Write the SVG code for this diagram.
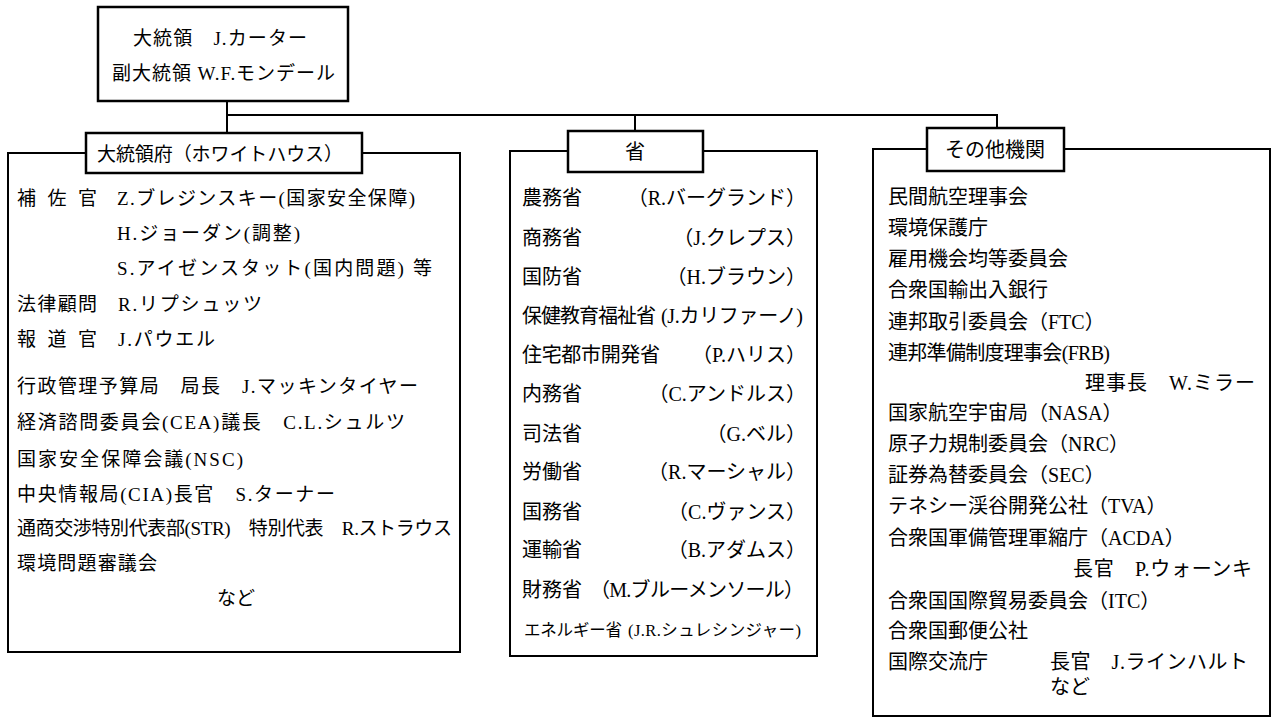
<svg xmlns="http://www.w3.org/2000/svg" width="1280" height="724" viewBox="0 0 1280 724">
<style>
text{font-family:"Liberation Serif","Noto Sans CJK JP",serif;fill:#000;font-size:19px}
.box{fill:#fff;stroke:#000;stroke-width:2}
.ttl{fill:#fff;stroke:#000;stroke-width:2.5}
.ln{stroke:#000;stroke-width:2;fill:none}
.sm{font-size:16.5px}
.r{font-size:20px}
.end{text-anchor:end}
.mid{text-anchor:middle}
</style>
<rect width="1280" height="724" fill="#fff"/>
<g id="connectors">
<path class="ln" d="M227,101 V133 M227,115 H998 M635,115 V131 M997,115 V128"/>
</g>
<g id="president">
<rect class="ttl" x="98" y="7" width="250" height="94"/>
<text x="133" y="45" font-size="20" textLength="174">大統領　J.カーター</text>
<text x="112" y="80" font-size="18" textLength="223">副大統領  W.F.モンデール</text>
</g>
<g id="whitehouse">
<rect class="box" x="8" y="153" width="452" height="499"/>
<rect class="ttl" x="86" y="133" width="276" height="40"/>
<text x="97" y="161" textLength="246">大統領府（ホワイトハウス）</text>
<text x="17" y="205" textLength="80">補 佐 官</text>
<text x="117" y="205" textLength="298">Z.ブレジンスキー(国家安全保障)</text>
<text x="117" y="240" textLength="183">H.ジョーダン(調整)</text>
<text x="117" y="275" textLength="315">S.アイゼンスタット(国内問題) 等</text>
<text x="17" y="311" textLength="80">法律顧問</text>
<text x="118" y="311" textLength="144">R.リプシュッツ</text>
<text x="17" y="346" textLength="80">報 道 官</text>
<text x="118" y="346" textLength="97">J.パウエル</text>
<text x="17" y="393" textLength="401">行政管理予算局　局長　J.マッキンタイヤー</text>
<text x="17" y="429" textLength="388">経済諮問委員会(CEA)議長　C.L.シュルツ</text>
<text x="17" y="466" textLength="226">国家安全保障会議(NSC)</text>
<text x="17" y="501" textLength="318">中央情報局(CIA)長官　S.ターナー</text>
<text x="17" y="535" textLength="435">通商交渉特別代表部(STR)　特別代表　R.ストラウス</text>
<text x="17" y="570" textLength="140">環境問題審議会</text>
<text x="236" y="605" class="mid">など</text>
</g>
<g id="ministries">
<rect class="box" x="510" y="151" width="307" height="505"/>
<rect class="ttl" x="568" y="131" width="135" height="41"/>
<text x="635" y="159" class="mid r">省</text>
<text x="522" y="205" class="r">農務省</text><text x="806" y="205" class="end r">（R.バーグランド）</text>
<text x="522" y="245" class="r">商務省</text><text x="806" y="245" class="end r">（J.クレプス）</text>
<text x="522" y="284" class="r">国防省</text><text x="806" y="284" class="end r">（H.ブラウン）</text>
<text x="522" y="323" class="r" textLength="134">保健教育福祉省</text><text x="661" y="323" class="r" textLength="142">(J.カリファーノ)</text>
<text x="522" y="362" class="r" textLength="138">住宅都市開発省</text><text x="806" y="362" class="end r">（P.ハリス）</text>
<text x="522" y="401" class="r">内務省</text><text x="806" y="401" class="end r">（C.アンドルス）</text>
<text x="522" y="441" class="r">司法省</text><text x="806" y="441" class="end r">（G.ベル）</text>
<text x="522" y="479" class="r">労働省</text><text x="806" y="479" class="end r">（R.マーシャル）</text>
<text x="522" y="519" class="r">国務省</text><text x="806" y="519" class="end r">（C.ヴァンス）</text>
<text x="522" y="557" class="r">運輸省</text><text x="806" y="557" class="end r">（B.アダムス）</text>
<text x="522" y="597" class="r">財務省</text><text x="590" y="597" class="r" textLength="214">（M.ブルーメンソール）</text>
<text x="524" y="636" class="sm" textLength="98">エネルギー省</text><text x="628" y="636" class="sm" textLength="173">(J.R.シュレシンジャー)</text>
</g>
<g id="agencies">
<rect class="box" x="873" y="149" width="397" height="567"/>
<rect class="ttl" x="927" y="128" width="137" height="43"/>
<text x="995" y="157" class="mid r">その他機関</text>
<text x="888" y="204" class="r">民間航空理事会</text>
<text x="888" y="235" class="r">環境保護庁</text>
<text x="888" y="266" class="r">雇用機会均等委員会</text>
<text x="888" y="297" class="r">合衆国輸出入銀行</text>
<text x="888" y="329" class="r">連邦取引委員会（FTC）</text>
<text x="888" y="360" class="r" textLength="222">連邦準備制度理事会(FRB)</text>
<text x="1085" y="390" class="r" textLength="170">理事長　W.ミラー</text>
<text x="888" y="420" class="r">国家航空宇宙局（NASA）</text>
<text x="888" y="451" class="r">原子力規制委員会（NRC）</text>
<text x="888" y="482" class="r">証券為替委員会（SEC）</text>
<text x="888" y="513" class="r">テネシー渓谷開発公社（TVA）</text>
<text x="888" y="545" class="r">合衆国軍備管理軍縮庁（ACDA）</text>
<text x="1073" y="576" class="r" textLength="179">長官　P.ウォーンキ</text>
<text x="888" y="608" class="r">合衆国国際貿易委員会（ITC）</text>
<text x="888" y="638" class="r">合衆国郵便公社</text>
<text x="888" y="669" class="r">国際交流庁</text>
<text x="1050" y="669" class="r" textLength="198">長官　J.ラインハルト</text>
<text x="1050" y="694" class="r">など</text>
</g>
</svg>
